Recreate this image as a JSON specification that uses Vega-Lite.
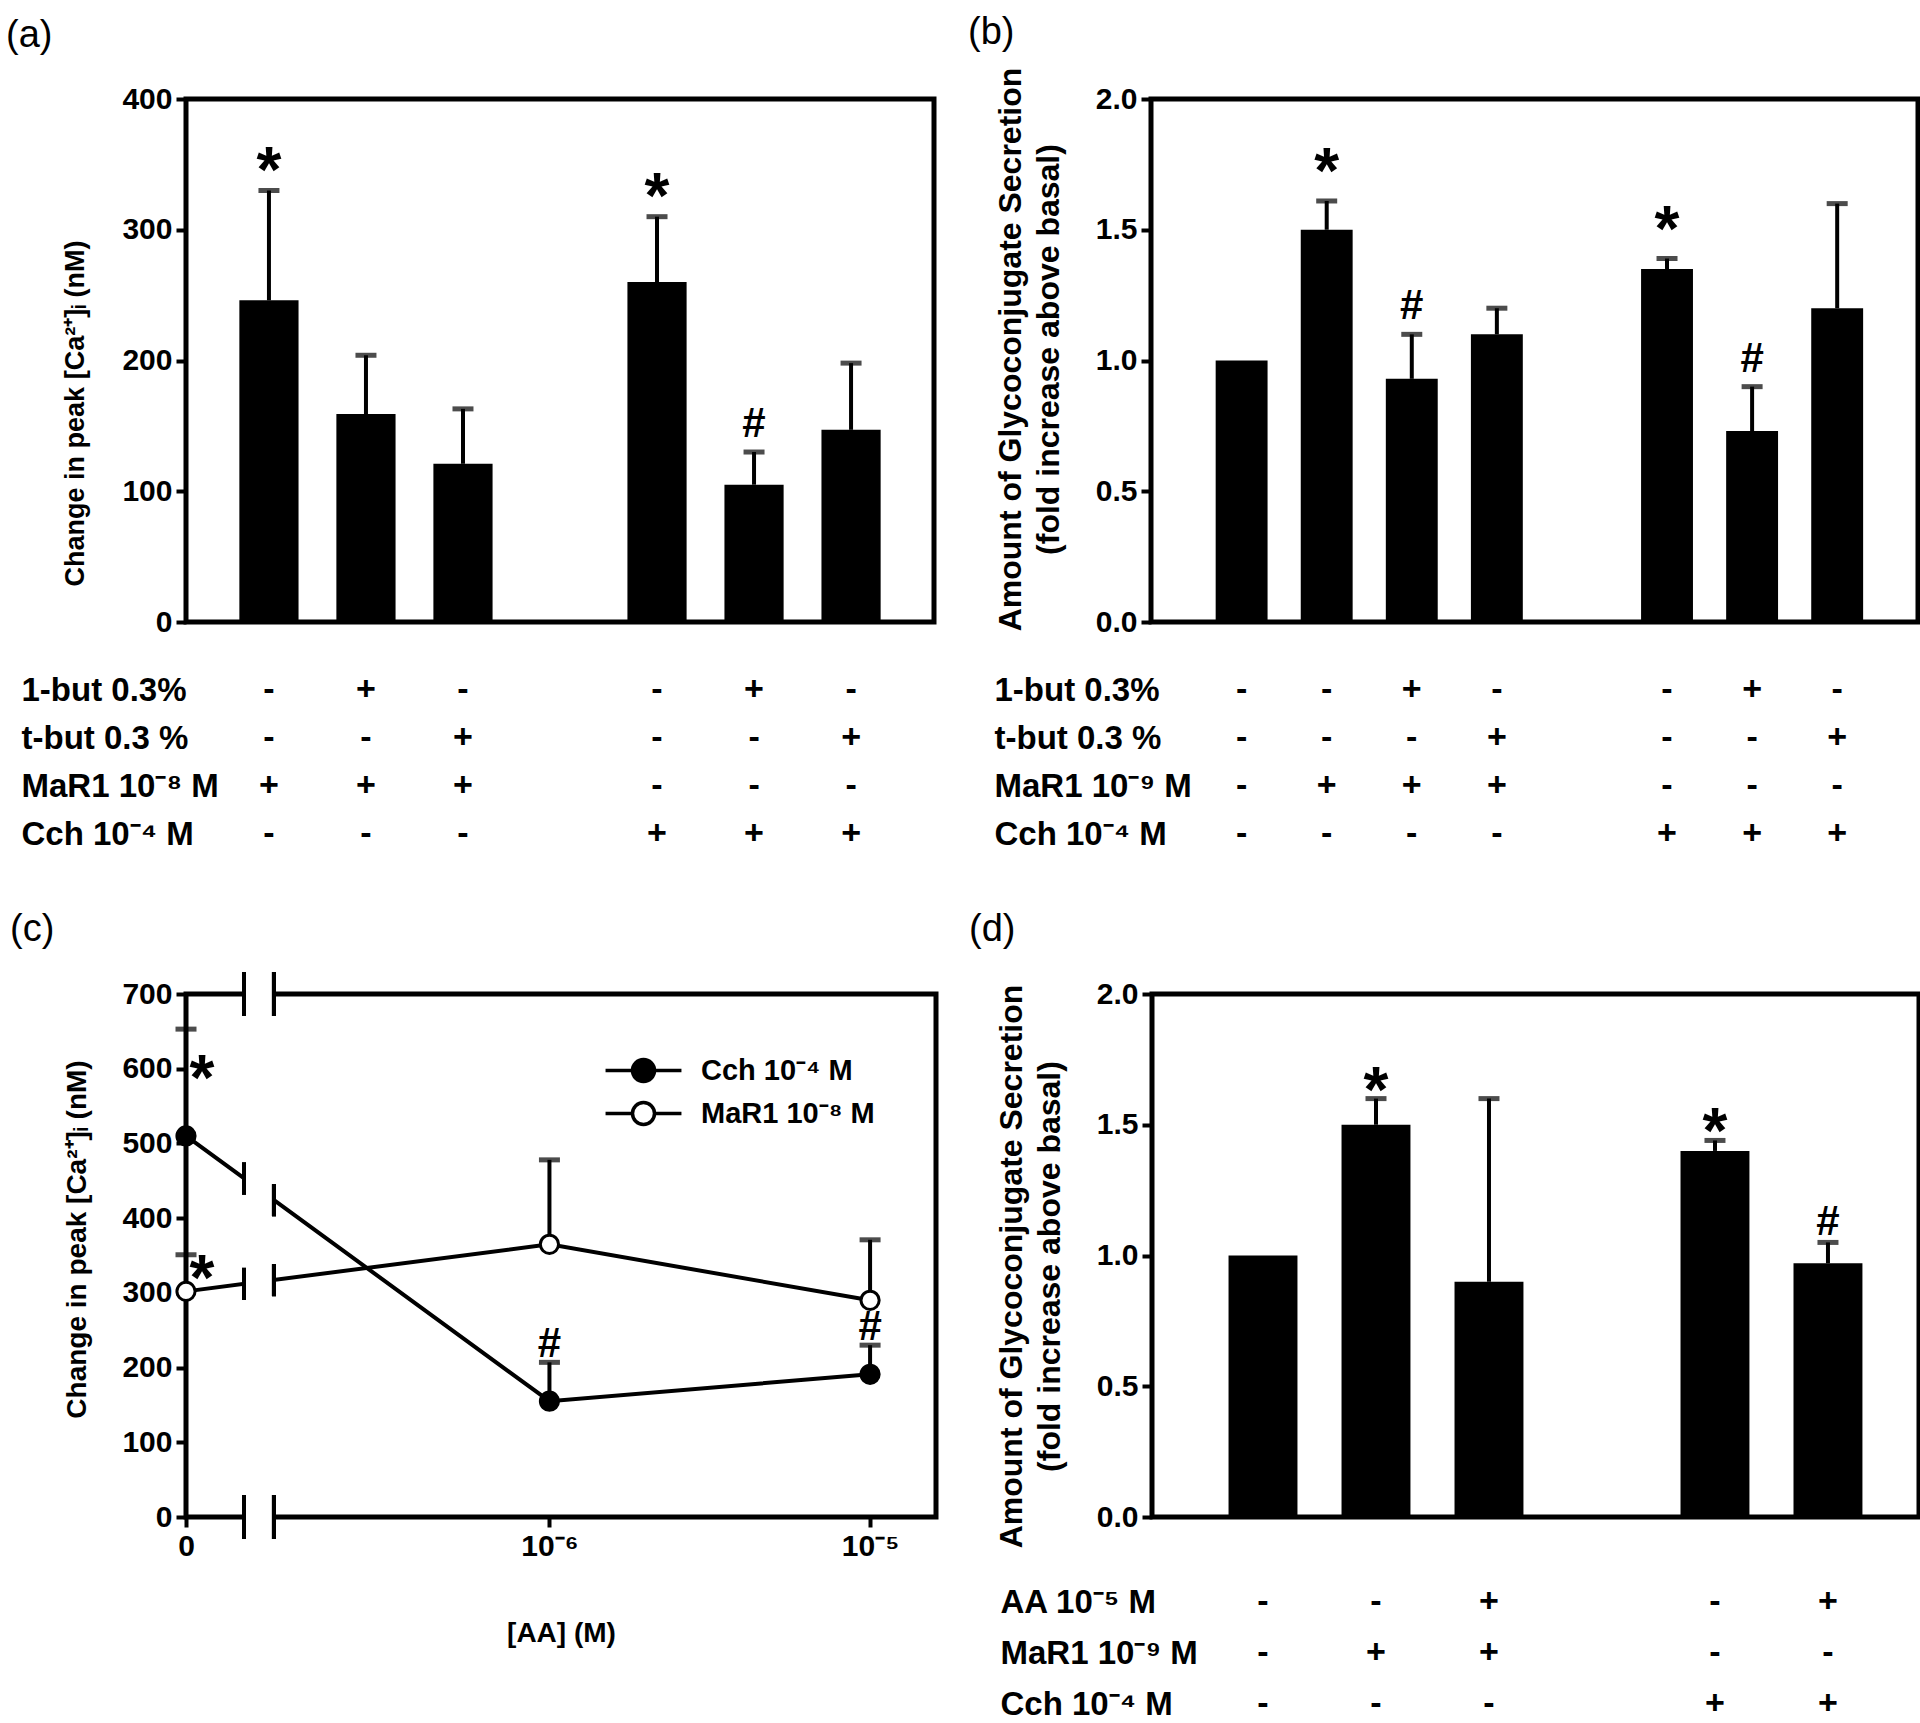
{
  "$schema": "https://vega.github.io/schema/vega-lite/v6.json",
  "background": "white",
  "padding": {"left": 3, "top": 11, "right": 0, "bottom": 0},
  "config": {
    "font": "Liberation Sans",
    "view": {"stroke": "black", "strokeWidth": 5},
    "axis": {"labelFont": "Liberation Sans", "labelFontSize": 30, "labelFontWeight": "bold", "labelColor": "black", "titleFont": "Liberation Sans", "titleFontWeight": "bold", "titleColor": "black", "domain": false, "tickColor": "black", "tickWidth": 4, "tickSize": 10, "labelPadding": 4, "grid": false},
    "title": {"font": "Liberation Sans", "fontSize": 38, "fontWeight": "normal", "color": "black", "anchor": "start", "frame": "group"},
    "text": {"font": "Liberation Sans", "fontWeight": "bold", "fontSize": 34, "color": "black"},
    "legend": {"labelFont": "Liberation Sans"}
  },
  "datasets": {
    "a": [
      {"slot": "g1", "mean": 246, "upper": 330, "sig": "*"},
      {"slot": "g2", "mean": 159, "upper": 204, "sig": null},
      {"slot": "g3", "mean": 121, "upper": 163, "sig": null},
      {"slot": "g5", "mean": 260, "upper": 310, "sig": "*"},
      {"slot": "g6", "mean": 105, "upper": 130, "sig": "#"},
      {"slot": "g7", "mean": 147, "upper": 198, "sig": null}
    ],
    "ta": [
      {"row": "1-but 0.3%", "g1": "-", "g2": "+", "g3": "-", "g5": "-", "g6": "+", "g7": "-"},
      {"row": "t-but 0.3 %", "g1": "-", "g2": "-", "g3": "+", "g5": "-", "g6": "-", "g7": "+"},
      {"row": "MaR1 10⁻⁸ M", "g1": "+", "g2": "+", "g3": "+", "g5": "-", "g6": "-", "g7": "-"},
      {"row": "Cch 10⁻⁴ M", "g1": "-", "g2": "-", "g3": "-", "g5": "+", "g6": "+", "g7": "+"}
    ],
    "b": [
      {"slot": "g1", "mean": 1.0, "upper": null, "sig": null},
      {"slot": "g2", "mean": 1.5, "upper": 1.61, "sig": "*"},
      {"slot": "g3", "mean": 0.93, "upper": 1.1, "sig": "#"},
      {"slot": "g4", "mean": 1.1, "upper": 1.2, "sig": null},
      {"slot": "g6", "mean": 1.35, "upper": 1.39, "sig": "*"},
      {"slot": "g7", "mean": 0.73, "upper": 0.9, "sig": "#"},
      {"slot": "g8", "mean": 1.2, "upper": 1.6, "sig": null}
    ],
    "tb": [
      {"row": "1-but 0.3%", "g1": "-", "g2": "-", "g3": "+", "g4": "-", "g6": "-", "g7": "+", "g8": "-"},
      {"row": "t-but 0.3 %", "g1": "-", "g2": "-", "g3": "-", "g4": "+", "g6": "-", "g7": "-", "g8": "+"},
      {"row": "MaR1 10⁻⁹ M", "g1": "-", "g2": "+", "g3": "+", "g4": "+", "g6": "-", "g7": "-", "g8": "-"},
      {"row": "Cch 10⁻⁴ M", "g1": "-", "g2": "-", "g3": "-", "g4": "-", "g6": "+", "g7": "+", "g8": "+"}
    ],
    "c": [
      {"series": "Cch 10⁻⁴ M", "conc": 0, "mean": 510, "upper": 653, "sig": "*"},
      {"series": "Cch 10⁻⁴ M", "conc": 1e-6, "mean": 155, "upper": 207, "sig": "#"},
      {"series": "Cch 10⁻⁴ M", "conc": 1e-5, "mean": 191, "upper": 230, "sig": "#"},
      {"series": "MaR1 10⁻⁸ M", "conc": 0, "mean": 302, "upper": 351, "sig": "*"},
      {"series": "MaR1 10⁻⁸ M", "conc": 1e-6, "mean": 365, "upper": 478, "sig": null},
      {"series": "MaR1 10⁻⁸ M", "conc": 1e-5, "mean": 290, "upper": 371, "sig": null}
    ],
    "d": [
      {"slot": "g1", "mean": 1.0, "upper": null, "sig": null},
      {"slot": "g2", "mean": 1.5, "upper": 1.6, "sig": "*"},
      {"slot": "g3", "mean": 0.9, "upper": 1.6, "sig": null},
      {"slot": "g5", "mean": 1.4, "upper": 1.44, "sig": "*"},
      {"slot": "g6", "mean": 0.97, "upper": 1.05, "sig": "#"}
    ],
    "td": [
      {"row": "AA 10⁻⁵ M", "g1": "-", "g2": "-", "g3": "+", "g5": "-", "g6": "+"},
      {"row": "MaR1 10⁻⁹ M", "g1": "-", "g2": "+", "g3": "+", "g5": "-", "g6": "-"},
      {"row": "Cch 10⁻⁴ M", "g1": "-", "g2": "-", "g3": "-", "g5": "+", "g6": "+"}
    ]
  },
  "resolve": {"legend": {"fill": "independent"}},
  "vconcat": [
    {
      "hconcat": [
        {
          "vconcat": [
            {
              "width": 748, "height": 523,
              "title": {"text": "(a)", "dx": -180, "offset": 29},
              "data": {"name": "a"},
              "encoding": {"x": {"field": "slot", "type": "nominal", "scale": {"type": "band", "domain": ["g1","g2","g3","g4","g5","g6","g7"], "paddingInner": 0.39, "paddingOuter": 0.55}, "axis": null}},
              "layer": [
                {"transform": [{"filter": "datum.upper != null"}], "mark": {"type": "rule", "color": "black", "strokeWidth": 4}, "encoding": {"y": {"field": "mean", "type": "quantitative"}, "y2": {"field": "upper"}}},
                {"transform": [{"filter": "datum.upper != null"}], "mark": {"type": "tick", "orient": "horizontal", "color": "black", "size": 21, "thickness": 5}, "encoding": {"y": {"field": "upper", "type": "quantitative"}}},
                {"mark": {"type": "bar", "color": "black"}, "encoding": {"y": {"field": "mean", "type": "quantitative", "scale": {"domain": [0, 400]}, "axis": {"values": [0, 100, 200, 300, 400], "format": "d", "title": "Change in peak [Ca²⁺]ᵢ (nM)", "titleFontSize": 27, "titlePadding": 32, "titleY": 314}}}},
                {"transform": [{"filter": "datum.sig == '*'"}], "mark": {"type": "text", "baseline": "alphabetic", "dy": 1, "fontSize": 64}, "encoding": {"y": {"field": "upper", "type": "quantitative"}, "text": {"field": "sig"}}},
                {"transform": [{"filter": "datum.sig == '#'"}], "mark": {"type": "text", "baseline": "alphabetic", "dy": -15, "fontSize": 42}, "encoding": {"y": {"field": "upper", "type": "quantitative"}, "text": {"field": "sig"}}}
              ]
            },
            {
              "width": 748, "height": 172.8,
              "view": {"stroke": null},
              "data": {"name": "ta"},
              "transform": [{"fold": ["g1","g2","g3","g5","g6","g7"], "as": ["slot", "s"]}],
              "mark": {"type": "text", "fontSize": 34},
              "encoding": {
                "x": {"field": "slot", "type": "nominal", "bandPosition": 0.5, "scale": {"type": "band", "domain": ["g1","g2","g3","g4","g5","g6","g7"], "paddingInner": 0.39, "paddingOuter": 0.55}, "axis": null},
                "y": {"field": "row", "type": "nominal", "scale": {"type": "point", "domain": ["1-but 0.3%", "t-but 0.3 %", "MaR1 10⁻⁸ M", "Cch 10⁻⁴ M"], "padding": 0.3}, "axis": {"title": null, "ticks": false, "tickSize": 0, "domain": false, "labelAlign": "left", "labelPadding": 165, "labelFontSize": 33, "labelLimit": 0}},
                "text": {"field": "s"}
              }
            }
          ],
          "spacing": 33
        },
        {
          "vconcat": [
            {
              "width": 767, "height": 523,
              "title": {"text": "(b)", "dx": -183, "offset": 15},
              "data": {"name": "b"},
              "encoding": {"x": {"field": "slot", "type": "nominal", "scale": {"type": "band", "domain": ["g1","g2","g3","g4","g5","g6","g7","g8"], "paddingInner": 0.39, "paddingOuter": 0.7025, "align": 0.541}, "axis": null}},
              "layer": [
                {"transform": [{"filter": "datum.upper != null"}], "mark": {"type": "rule", "color": "black", "strokeWidth": 4}, "encoding": {"y": {"field": "mean", "type": "quantitative"}, "y2": {"field": "upper"}}},
                {"transform": [{"filter": "datum.upper != null"}], "mark": {"type": "tick", "orient": "horizontal", "color": "black", "size": 21, "thickness": 5}, "encoding": {"y": {"field": "upper", "type": "quantitative"}}},
                {"mark": {"type": "bar", "color": "black"}, "encoding": {"y": {"field": "mean", "type": "quantitative", "scale": {"domain": [0, 2]}, "axis": {"values": [0, 0.5, 1, 1.5, 2], "format": ".1f", "title": ["Amount of Glycoconjugate Secretion", "(fold increase above basal)"], "titleFontSize": 32, "titleLineHeight": 38, "titlePadding": 30, "titleY": 250}}}},
                {"transform": [{"filter": "datum.sig == '*'"}], "mark": {"type": "text", "baseline": "alphabetic", "dy": -8, "fontSize": 64}, "encoding": {"y": {"field": "upper", "type": "quantitative"}, "text": {"field": "sig"}}},
                {"transform": [{"filter": "datum.sig == '#'"}], "mark": {"type": "text", "baseline": "alphabetic", "dy": -15, "fontSize": 42}, "encoding": {"y": {"field": "upper", "type": "quantitative"}, "text": {"field": "sig"}}}
              ]
            },
            {
              "width": 767, "height": 172.8,
              "view": {"stroke": null},
              "data": {"name": "tb"},
              "transform": [{"fold": ["g1","g2","g3","g4","g6","g7","g8"], "as": ["slot", "s"]}],
              "mark": {"type": "text", "fontSize": 34},
              "encoding": {
                "x": {"field": "slot", "type": "nominal", "bandPosition": 0.5, "scale": {"type": "band", "domain": ["g1","g2","g3","g4","g5","g6","g7","g8"], "paddingInner": 0.39, "paddingOuter": 0.7025, "align": 0.541}, "axis": null},
                "y": {"field": "row", "type": "nominal", "scale": {"type": "point", "domain": ["1-but 0.3%", "t-but 0.3 %", "MaR1 10⁻⁹ M", "Cch 10⁻⁴ M"], "padding": 0.3}, "axis": {"title": null, "ticks": false, "tickSize": 0, "domain": false, "labelAlign": "left", "labelPadding": 157, "labelFontSize": 33, "labelLimit": 0}},
                "text": {"field": "s"}
              }
            }
          ],
          "spacing": 33
        }
      ],
      "spacing": 28
    },
    {
      "resolve": {"legend": {"fill": "independent"}},
      "hconcat": [
        {
          "width": 750, "height": 523,
          "title": {"text": "(c)", "dx": -176, "offset": 23},
          "data": {"name": "c"},
          "encoding": {
            "x": {"field": "conc", "type": "quantitative", "scale": {"type": "symlog", "constant": 8.7e-8, "domain": [0, 1.586e-5], "nice": false, "zero": false}, "axis": {"values": [0, 1e-6, 1e-5], "labelFlush": false, "labelExpr": "datum.value == 0 ? '0' : (datum.value < 5e-6 ? '10⁻⁶' : '10⁻⁵')", "title": "[AA] (M)", "titleFontSize": 28, "titlePadding": 58}},
            "y": {"field": "mean", "type": "quantitative", "scale": {"domain": [0, 700]}, "axis": {"values": [0, 100, 200, 300, 400, 500, 600, 700], "format": "d", "title": "Change in peak [Ca²⁺]ᵢ (nM)", "titleFontSize": 28, "titlePadding": 30, "titleY": 245}}
          },
          "layer": [
            {"mark": {"type": "rule", "color": "black", "strokeWidth": 4}, "encoding": {"y2": {"field": "upper"}}},
            {"mark": {"type": "tick", "orient": "horizontal", "color": "black", "size": 21, "thickness": 5}, "encoding": {"y": {"field": "upper", "type": "quantitative"}}},
            {"mark": {"type": "line", "color": "black", "strokeWidth": 4}, "encoding": {"detail": {"field": "series"}}},
            {"mark": {"type": "rect", "color": "white"}, "encoding": {"x": {"datum": 4.32e-8}, "x2": {"datum": 7.33e-8}, "y": {"datum": -14}, "y2": {"datum": 714}}},
            {"mark": {"type": "tick", "orient": "vertical", "color": "black", "size": 44, "thickness": 4}, "encoding": {"x": {"datum": 4.32e-8}, "y": {"datum": 700}}},
            {"mark": {"type": "tick", "orient": "vertical", "color": "black", "size": 44, "thickness": 4}, "encoding": {"x": {"datum": 7.33e-8}, "y": {"datum": 700}}},
            {"mark": {"type": "tick", "orient": "vertical", "color": "black", "size": 44, "thickness": 4}, "encoding": {"x": {"datum": 4.32e-8}, "y": {"datum": 0}}},
            {"mark": {"type": "tick", "orient": "vertical", "color": "black", "size": 44, "thickness": 4}, "encoding": {"x": {"datum": 7.33e-8}, "y": {"datum": 0}}},
            {"mark": {"type": "tick", "orient": "vertical", "color": "black", "size": 32, "thickness": 4}, "encoding": {"x": {"datum": 4.32e-8}, "y": {"datum": 453}}},
            {"mark": {"type": "tick", "orient": "vertical", "color": "black", "size": 32, "thickness": 4}, "encoding": {"x": {"datum": 7.33e-8}, "y": {"datum": 424}}},
            {"mark": {"type": "tick", "orient": "vertical", "color": "black", "size": 32, "thickness": 4}, "encoding": {"x": {"datum": 4.32e-8}, "y": {"datum": 312}}},
            {"mark": {"type": "tick", "orient": "vertical", "color": "black", "size": 32, "thickness": 4}, "encoding": {"x": {"datum": 7.33e-8}, "y": {"datum": 317}}},
            {
              "mark": {"type": "point", "filled": true, "stroke": "black", "strokeWidth": 3, "size": 330, "opacity": 1},
              "encoding": {
                "fill": {"field": "series", "type": "nominal", "scale": {"domain": ["Cch 10⁻⁴ M", "MaR1 10⁻⁸ M"], "range": ["black", "white"]},
                  "legend": {"orient": "none", "legendX": 443, "legendY": 62, "title": null, "padding": 0, "symbolType": "M-3.45,0L-1,0M1,0L3.45,0M-1,0A1,1,0,1,1,1,0A1,1,0,1,1,-1,0", "symbolSize": 484, "symbolStrokeColor": "black", "symbolStrokeWidth": 3.5, "labelFontSize": 29, "labelFontWeight": "bold", "labelColor": "black", "labelOffset": 43, "labelLimit": 0, "rowPadding": 6}}
              }
            },
            {"transform": [{"filter": "datum.sig == '#'"}], "mark": {"type": "text", "baseline": "alphabetic", "dy": -5, "fontSize": 42}, "encoding": {"y": {"field": "upper", "type": "quantitative"}, "text": {"field": "sig"}}},
            {"transform": [{"filter": "datum.sig == '*' && datum.conc == 0 && datum.mean < 400"}], "mark": {"type": "text", "baseline": "alphabetic", "dx": 16, "dy": 45, "fontSize": 64}, "encoding": {"y": {"field": "upper", "type": "quantitative"}, "text": {"field": "sig"}}},
            {"transform": [{"filter": "datum.sig == '*' && datum.conc == 0 && datum.mean > 400"}], "mark": {"type": "text", "baseline": "alphabetic", "dx": 16, "dy": -36, "fontSize": 64}, "encoding": {"text": {"field": "sig"}}}
          ]
        },
        {
          "vconcat": [
            {
              "width": 767, "height": 523,
              "title": {"text": "(d)", "dx": -183, "offset": 30},
              "data": {"name": "d"},
              "encoding": {"x": {"field": "slot", "type": "nominal", "scale": {"type": "band", "domain": ["g1","g2","g3","g4","g5","g6"], "paddingInner": 0.39, "paddingOuter": 0.589, "align": 0.575}, "axis": null}},
              "layer": [
                {"transform": [{"filter": "datum.upper != null"}], "mark": {"type": "rule", "color": "black", "strokeWidth": 4}, "encoding": {"y": {"field": "mean", "type": "quantitative"}, "y2": {"field": "upper"}}},
                {"transform": [{"filter": "datum.upper != null"}], "mark": {"type": "tick", "orient": "horizontal", "color": "black", "size": 21, "thickness": 5}, "encoding": {"y": {"field": "upper", "type": "quantitative"}}},
                {"mark": {"type": "bar", "color": "black"}, "encoding": {"y": {"field": "mean", "type": "quantitative", "scale": {"domain": [0, 2]}, "axis": {"values": [0, 0.5, 1, 1.5, 2], "format": ".1f", "title": ["Amount of Glycoconjugate Secretion", "(fold increase above basal)"], "titleFontSize": 32, "titleLineHeight": 38, "titlePadding": 30, "titleY": 272}}}},
                {"transform": [{"filter": "datum.sig == '*'"}], "mark": {"type": "text", "baseline": "alphabetic", "dy": 13, "fontSize": 64}, "encoding": {"y": {"field": "upper", "type": "quantitative"}, "text": {"field": "sig"}}},
                {"transform": [{"filter": "datum.sig == '#'"}], "mark": {"type": "text", "baseline": "alphabetic", "dy": -7, "fontSize": 42}, "encoding": {"y": {"field": "upper", "type": "quantitative"}, "text": {"field": "sig"}}}
              ]
            },
            {
              "width": 767, "height": 132.6,
              "view": {"stroke": null},
              "data": {"name": "td"},
              "transform": [{"fold": ["g1","g2","g3","g5","g6"], "as": ["slot", "s"]}],
              "mark": {"type": "text", "fontSize": 34},
              "encoding": {
                "x": {"field": "slot", "type": "nominal", "bandPosition": 0.5, "scale": {"type": "band", "domain": ["g1","g2","g3","g4","g5","g6"], "paddingInner": 0.39, "paddingOuter": 0.589, "align": 0.575}, "axis": null},
                "y": {"field": "row", "type": "nominal", "scale": {"type": "point", "domain": ["AA 10⁻⁵ M", "MaR1 10⁻⁹ M", "Cch 10⁻⁴ M"], "padding": 0.3}, "axis": {"title": null, "ticks": false, "tickSize": 0, "domain": false, "labelAlign": "left", "labelPadding": 152, "labelFontSize": 33, "labelLimit": 0}},
                "text": {"field": "s"}
              }
            }
          ],
          "spacing": 34
        }
      ],
      "spacing": 27
    }
  ],
  "spacing": 56
}
